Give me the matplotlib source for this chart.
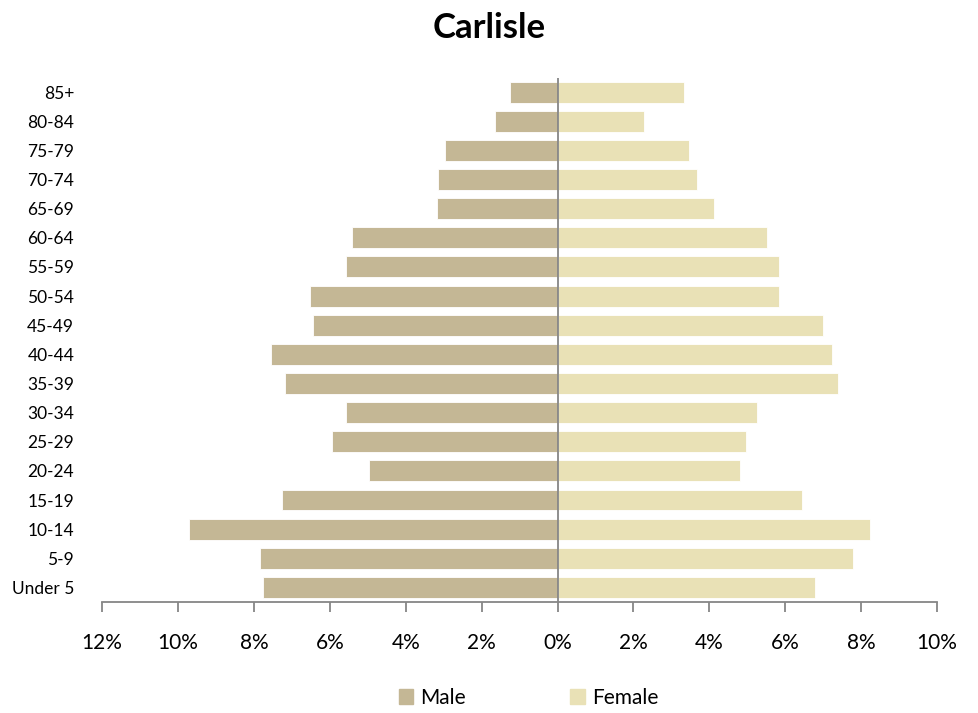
import matplotlib
matplotlib.use("Agg")
import matplotlib.pyplot as plt
from matplotlib.patches import Patch

ages = ["Under 5", "5-9", "10-14", "15-19", "20-24", "25-29", "30-34", "35-39",
        "40-44", "45-49", "50-54", "55-59", "60-64", "65-69", "70-74", "75-79",
        "80-84", "85+"]
male = [7.75, 7.83, 9.71, 7.25, 4.97, 5.93, 5.56, 7.17, 7.54, 6.45, 6.53,
        5.56, 5.42, 3.17, 3.15, 2.96, 1.64, 1.24]
female = [6.79, 7.79, 8.24, 6.45, 4.82, 4.97, 5.26, 7.39, 7.24, 7.0, 5.84,
          5.84, 5.53, 4.13, 3.68, 3.47, 2.29, 3.32]
xticks = [-12, -10, -8, -6, -4, -2, 0, 2, 4, 6, 8, 10]

C_M, C_F, GREY = "#C4B795", "#E9E1B6", "#868686"
plt.rcParams["font.family"] = ["Lato", "DejaVu Sans"]

fig = plt.figure(figsize=(9.79, 7.13), dpi=100)
ax = fig.add_axes([0.1042, 0.1557, 0.853, 0.7356])
y = list(range(len(ages)))
ax.barh(y, [-m for m in male], height=0.72, color=C_M, edgecolor="white", lw=0.6)
ax.barh(y, female, height=0.72, color=C_F, edgecolor="white", lw=0.6)
ax.axvline(0, color=GREY, lw=1.3)

ax.set_xlim(-12, 10)
ax.set_ylim(-0.5, len(ages) - 0.5)
ax.set_xticks(xticks)
ax.set_xticklabels([f"{abs(v)}%" for v in xticks])
ax.set_yticks(y)
ax.set_yticklabels(ages)
for s in ["top", "right", "left"]:
    ax.spines[s].set_visible(False)
ax.spines["bottom"].set_color(GREY)
ax.spines["bottom"].set_linewidth(1.3)
ax.tick_params(axis="x", direction="out", length=7, width=1.3, color=GREY,
               pad=15, labelsize=15)
ax.tick_params(axis="y", length=0, pad=20, labelsize=12.5)

fig.suptitle("Carlisle", y=0.983, fontsize=25, fontweight="bold")
fig.legend(handles=[Patch(color=C_M, label="Male"), Patch(color=C_F, label="Female")],
           loc="center", bbox_to_anchor=(0.54, 0.021), ncol=2, frameon=False,
           fontsize=15, handlelength=0.7, handleheight=0.7, columnspacing=5.0,
           handletextpad=0.35)
fig.savefig("out.png", dpi=100)
